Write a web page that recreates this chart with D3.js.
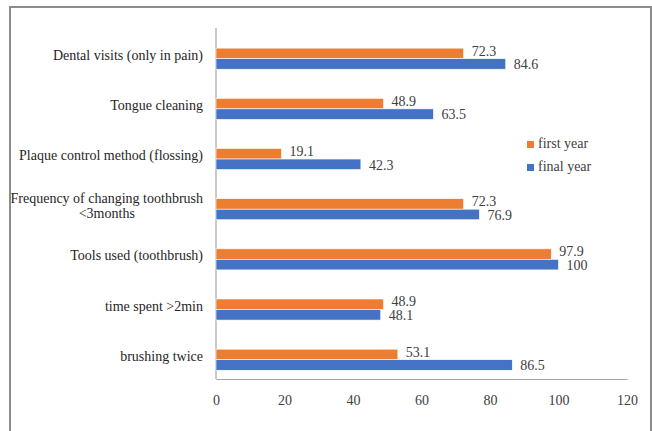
<!DOCTYPE html>
<html>
<head>
<meta charset="utf-8">
<script src="https://cdn.jsdelivr.net/npm/d3@7"></script>
<style>
  body { margin: 0; background: #fff; }
  svg text { font-family: "Liberation Serif", "DejaVu Serif", serif; }
</style>
</head>
<body>
<svg id="chart" width="652" height="431"></svg>
<script>
const categories = [
    ['Dental visits (only in pain)'],
    ['Tongue cleaning'],
    ['Plaque control method (flossing)'],
    ['Frequency of changing toothbrush', '<3months'],
    ['Tools used (toothbrush)'],
    ['time spent >2min'],
    ['brushing twice']
];
const firstYear = [72.3, 48.9, 19.1, 72.3, 97.9, 48.9, 53.1];
const finalYear = [84.6, 63.5, 42.3, 76.9, 100, 48.1, 86.5];
const seriesNames = ['first year', 'final year'];
const xTicks = [0, 20, 40, 60, 80, 100, 120];

const colors = ['#ED7D31', '#4472C4'];
const svg = d3.select('#chart');

// outer frame
svg.append('rect')
    .attr('x', 10).attr('y', 7)
    .attr('width', 641).attr('height', 440)
    .attr('fill', 'none')
    .attr('stroke', '#8c8c8c')
    .attr('stroke-width', 2);

const marginLeft = 216, plotRight = 627, plotTop = 28, plotBottom = 379;

const xScale = d3.scaleLinear().domain([0, 120]).range([marginLeft, plotRight]);
const yScale = d3.scaleBand()
    .domain(d3.range(categories.length))
    .range([33.6, 384.8])
    .paddingInner(0.58).paddingOuter(0.29);
const subScale = d3.scaleBand().domain([0, 1]).range([0, yScale.bandwidth()]);

// x axis
const xAxis = d3.axisBottom(xScale).tickValues(xTicks).tickSize(0).tickPadding(16);
const xAxisGroup = svg.append('g')
    .attr('class', 'x-axis')
    .attr('transform', `translate(0, ${plotBottom})`)
    .call(xAxis);
xAxisGroup.select('.domain').attr('stroke', '#a6a6a6').attr('stroke-width', 1.2);
xAxisGroup.selectAll('text')
    .attr('fill', '#404040')
    .attr('font-size', 14)
    .attr('font-family', '"Liberation Serif", serif');

// y axis line
svg.append('line')
    .attr('x1', marginLeft).attr('x2', marginLeft)
    .attr('y1', plotTop).attr('y2', plotBottom)
    .attr('stroke', '#a6a6a6').attr('stroke-width', 1.2);

// bars
const labelShift = [-1, 2];
[firstYear, finalYear].forEach((values, s) => {
    const g = svg.append('g').attr('class', `series-${s}`);
    g.selectAll('rect')
        .data(values)
        .enter()
        .append('rect')
        .attr('x', xScale(0))
        .attr('y', (d, i) => yScale(i) + subScale(s))
        .attr('width', d => xScale(d) - xScale(0))
        .attr('height', subScale.bandwidth())
        .attr('fill', colors[s])
        .attr('stroke', '#fff')
        .attr('stroke-width', 0.6);
    g.selectAll('text')
        .data(values)
        .enter()
        .append('text')
        .attr('x', d => xScale(d) + 8)
        .attr('y', (d, i) => yScale(i) + subScale(s) + subScale.bandwidth() / 2 + labelShift[s])
        .attr('dominant-baseline', 'middle')
        .attr('font-size', 14)
        .attr('fill', '#404040')
        .text(d => d);
});

// category labels
const labelGroup = svg.append('g').attr('class', 'y-labels');
categories.forEach((lines, i) => {
    const cy = yScale(i) + yScale.bandwidth() / 2;
    const lineH = 15;
    const t = labelGroup.append('text')
        .attr('font-size', 14)
        .attr('fill', '#262626')
        .attr('dominant-baseline', 'middle');
    lines.forEach((line, k) => {
        t.append('tspan')
            .attr('y', cy + (k - (lines.length - 1) / 2) * lineH - 2)
            .text(line);
    });
    // right-align block, center-align lines within it
    const widths = [];
    t.selectAll('tspan').each(function () { widths.push(this.getComputedTextLength()); });
    const maxW = d3.max(widths);
    const right = marginLeft - 13;
    t.selectAll('tspan')
        .attr('x', right - maxW / 2)
        .attr('text-anchor', 'middle');
});

// legend
const legend = svg.append('g').attr('class', 'legend');
seriesNames.forEach((name, s) => {
    const y = 141 + s * 23;
    legend.append('rect')
        .attr('x', 527).attr('y', y)
        .attr('width', 7).attr('height', 7)
        .attr('fill', colors[s]);
    legend.append('text')
        .attr('x', 538).attr('y', y + 4)
        .attr('dominant-baseline', 'middle')
        .attr('font-size', 14)
        .attr('fill', '#404040')
        .text(name);
});
</script>
</body>
</html>
